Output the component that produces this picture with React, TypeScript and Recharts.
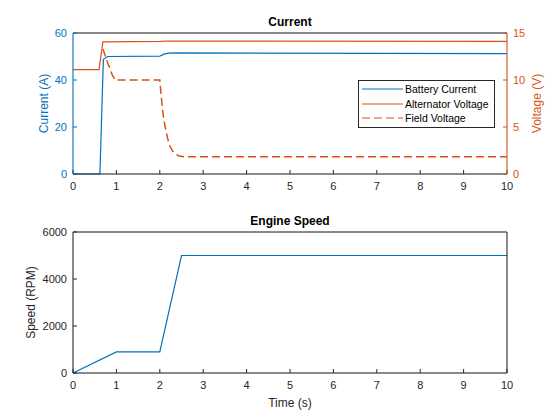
import { LineChart, Line, XAxis, YAxis, CartesianGrid, Legend } from "recharts";

// 時間軸 (s)
const TIME_TICKS = [0, 1, 2, 3, 4, 5, 6, 7, 8, 9, 10];
const CURRENT_TICKS = [0, 20, 40, 60];
const VOLTAGE_TICKS = [0, 5, 10, 15];
const SPEED_TICKS = [0, 2000, 4000, 6000];

// Battery Current (A)
const batteryTime = [0, 0.62, 0.7, 0.8, 2.0, 2.1, 2.2, 2.4, 10];
const batteryCurrent = [0, 0, 48.8, 50, 50.2, 51.0, 51.4, 51.5, 51.2];

// Alternator Voltage (V)
const altTime = [0, 0.6, 0.69, 2.0, 2.2, 10];
const altVoltage = [11.1, 11.1, 14.05, 14.1, 14.15, 14.1];

// Field Voltage (V)
const fieldTime = [0.69, 0.8, 0.9, 0.97, 2.0, 2.04, 2.08, 2.12, 2.18, 2.23, 2.3, 2.43, 2.55, 10];
const fieldVoltage = [13.3, 11.8, 10.6, 10.0, 10.0, 7.9, 6.2, 5.1, 3.8, 3.0, 2.4, 1.93, 1.83, 1.83];

// Engine Speed (RPM)
const speedTime = [0, 1, 2, 2.5, 10];
const speedRpm = [0, 900, 900, 5000, 5000];

const BLUE = "#0072BD";
const ORANGE = "#D95319";
const DARK = "#262626";
const FONT = "'Liberation Sans', Arial, sans-serif";

const LEGEND_ITEMS = [
  { n: "Battery Current", c: BLUE, d: undefined },
  { n: "Alternator Voltage", c: ORANGE, d: undefined },
  { n: "Field Voltage", c: ORANGE, d: "8 4" },
];

const zip = (xs: number[], ys: number[]) => xs.map((t, i) => ({ t, v: ys[i] }));

const tickStyle = { fontSize: 11, fontFamily: FONT };

function LegendBox() {
  return (
    <div>
      {LEGEND_ITEMS.map((e) => (
        <div key={e.n} style={{ display: "flex", alignItems: "center", height: 14.5, color: "#000" }}>
          <svg width={43} height={10} style={{ marginLeft: 3 }}>
            <line x1={0} y1={5} x2={41} y2={5} stroke={e.c} strokeWidth={1.2} strokeDasharray={e.d} />
          </svg>
          <span>{e.n}</span>
        </div>
      ))}
    </div>
  );
}

export default function App() {
  const battery = zip(batteryTime, batteryCurrent);
  const alt = zip(altTime, altVoltage);
  const field = zip(fieldTime, fieldVoltage);
  const speed = zip(speedTime, speedRpm);

  return (
    <div style={{ position: "absolute", left: 0, top: 0, width: 560, height: 420, background: "#fff", fontFamily: FONT }}>
      <div style={{ position: "absolute", left: 73, width: 434, top: 15, textAlign: "center", fontSize: 12, fontWeight: 700, color: "#000" }}>
        Current
      </div>
      <div style={{ position: "absolute", left: 73, width: 434, top: 214, textAlign: "center", fontSize: 12, fontWeight: 700, color: "#000" }}>
        Engine Speed
      </div>

      <div style={{ position: "absolute", left: 0, top: 0 }}>
        <LineChart width={560} height={200} margin={{ top: 32, right: 13, left: 33, bottom: 0 }}>
          <CartesianGrid stroke="#dcdcdc" />
          <XAxis
            xAxisId="b"
            dataKey="t"
            type="number"
            domain={[0, 10]}
            ticks={TIME_TICKS}
            height={26}
            tickSize={-4}
            tickMargin={12}
            stroke={DARK}
            tick={{ ...tickStyle, fill: DARK }}
          />
          <XAxis xAxisId="top" orientation="top" dataKey="t" type="number" domain={[0, 10]} ticks={TIME_TICKS} height={1} tick={false} tickSize={-4} stroke={DARK} />
          <YAxis
            yAxisId="a"
            domain={[0, 60]}
            ticks={CURRENT_TICKS}
            width={40}
            tickSize={-4}
            tickMargin={10}
            stroke={BLUE}
            tick={{ ...tickStyle, fill: BLUE }}
            label={{ value: "Current (A)", angle: -90, position: "insideLeft", offset: 0, dx: 11, style: { fill: BLUE, fontSize: 12, fontFamily: FONT, textAnchor: "middle" } }}
          />
          <YAxis
            yAxisId="v"
            orientation="right"
            domain={[0, 15]}
            ticks={VOLTAGE_TICKS}
            width={40}
            tickSize={-4}
            tickMargin={10}
            stroke={ORANGE}
            tick={{ ...tickStyle, fill: ORANGE }}
            label={{ value: "Voltage (V)", angle: -90, position: "insideRight", offset: 0, dx: -10, style: { fill: ORANGE, fontSize: 12, fontFamily: FONT, textAnchor: "middle" } }}
          />
          <Line xAxisId="b" yAxisId="a" data={battery} dataKey="v" name="Battery Current" type="linear" stroke={BLUE} strokeWidth={1.2} dot={false} isAnimationActive={false} />
          <Line xAxisId="b" yAxisId="v" data={alt} dataKey="v" name="Alternator Voltage" type="linear" stroke={ORANGE} strokeWidth={1.2} dot={false} isAnimationActive={false} />
          <Line xAxisId="b" yAxisId="v" data={field} dataKey="v" name="Field Voltage" type="linear" stroke={ORANGE} strokeWidth={1.5} strokeDasharray="8 4" dot={false} isAnimationActive={false} />
          <Legend
            layout="vertical"
            verticalAlign="middle"
            align="center"
            wrapperStyle={{ left: 358, top: 80, width: 137, border: "1px solid #262626", background: "#fff", padding: "1px 0", fontSize: 10.5, lineHeight: "14px", boxSizing: "border-box" }}
            content={() => <LegendBox />}
          />
        </LineChart>
      </div>

      <div style={{ position: "absolute", left: 0, top: 200 }}>
        <LineChart width={560} height={220} margin={{ top: 31, right: 52, left: 33, bottom: 0 }}>
          <CartesianGrid stroke="#dcdcdc" />
          <XAxis
            xAxisId="b"
            dataKey="t"
            type="number"
            domain={[0, 10]}
            ticks={TIME_TICKS}
            height={47}
            tickSize={-4}
            tickMargin={12}
            stroke={DARK}
            tick={{ ...tickStyle, fill: DARK }}
            label={{ value: "Time (s)", position: "insideBottom", offset: 13, style: { fill: DARK, fontSize: 12, fontFamily: FONT } }}
          />
          <XAxis xAxisId="top" orientation="top" dataKey="t" type="number" domain={[0, 10]} ticks={TIME_TICKS} height={1} tick={false} tickSize={-4} stroke={DARK} />
          <YAxis
            yAxisId="s"
            domain={[0, 6000]}
            ticks={SPEED_TICKS}
            width={40}
            tickSize={-4}
            tickMargin={10}
            stroke={DARK}
            tick={{ ...tickStyle, fill: DARK }}
            label={{ value: "Speed (RPM)", angle: -90, position: "insideLeft", offset: 0, dx: -2, style: { fill: DARK, fontSize: 12, fontFamily: FONT, textAnchor: "middle" } }}
          />
          <YAxis yAxisId="r" orientation="right" domain={[0, 6000]} ticks={SPEED_TICKS} width={1} tick={false} tickSize={-4} stroke={DARK} />
          <Line xAxisId="b" yAxisId="s" data={speed} dataKey="v" type="linear" stroke={BLUE} strokeWidth={1.2} dot={false} isAnimationActive={false} />
        </LineChart>
      </div>
    </div>
  );
}
